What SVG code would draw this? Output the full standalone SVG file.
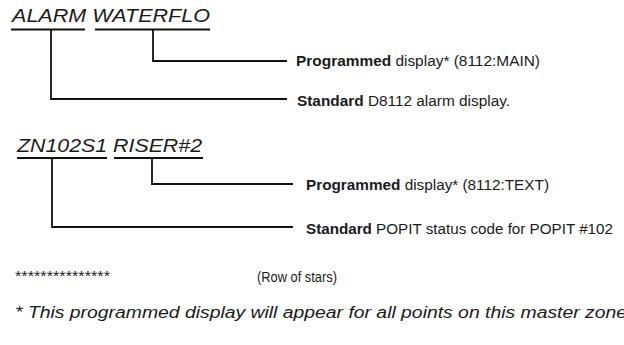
<svg xmlns="http://www.w3.org/2000/svg" width="624" height="345" viewBox="0 0 624 345">
<style>
.title{font-family:"Liberation Sans",Arial,sans-serif;font-style:italic;font-size:18px;fill:#1a1a1a}
.lbl{font-family:"Liberation Sans",Arial,sans-serif;font-size:14px;fill:#1a1a1a}
.b{font-weight:bold}
.ln{fill:none;stroke:#111;stroke-width:1.8}
.note{font-family:"Liberation Sans",Arial,sans-serif;font-style:italic;font-size:16px;fill:#1a1a1a}
</style>
<rect width="624" height="345" fill="#fff"/>
<g id="alarm-line">
<text class="title" x="12" y="22" textLength="198" lengthAdjust="spacingAndGlyphs">ALARM WATERFLO</text>
<line class="ln" x1="11" y1="29.5" x2="85" y2="29.5"/>
<line class="ln" x1="95" y1="29.5" x2="210" y2="29.5"/>
</g>
<g id="label-main">
<text class="lbl" x="296" y="66" textLength="244" lengthAdjust="spacingAndGlyphs"><tspan class="b">Programmed</tspan> display* (8112:MAIN)</text>
</g>
<g id="label-d8112">
<text class="lbl" x="297" y="106" textLength="213" lengthAdjust="spacingAndGlyphs"><tspan class="b">Standard</tspan> D8112 alarm display.</text>
</g>
<g id="zone-line">
<text class="title" x="17" y="151.5" textLength="185" lengthAdjust="spacingAndGlyphs">ZN102S1 RISER#2</text>
<line class="ln" x1="17" y1="158" x2="107" y2="158"/>
<line class="ln" x1="114" y1="158" x2="203" y2="158"/>
</g>
<g id="label-text">
<text class="lbl" x="306" y="190" textLength="243" lengthAdjust="spacingAndGlyphs"><tspan class="b">Programmed</tspan> display* (8112:TEXT)</text>
</g>
<g id="label-popit">
<text class="lbl" x="306" y="234" textLength="307" lengthAdjust="spacingAndGlyphs"><tspan class="b">Standard</tspan> POPIT status code for POPIT #102</text>
</g>
<g id="stars">
<text class="lbl" x="15" y="281" textLength="95" lengthAdjust="spacingAndGlyphs">***************</text>
<text class="lbl" x="257" y="282" textLength="80" lengthAdjust="spacingAndGlyphs">(Row of stars)</text>
</g>
<g id="footnote">
<text class="note" x="15" y="318" textLength="612" lengthAdjust="spacingAndGlyphs">* This programmed display will appear for all points on this master zone</text>
</g>
<g id="connectors">
<polyline class="ln" points="153,29.5 153,61 287,61"/>
<polyline class="ln" points="51,29.5 51,99 287,99"/>
<polyline class="ln" points="152,158 152,184 293,184"/>
<polyline class="ln" points="52,158 52,227 293,227"/>
</g>
</svg>
